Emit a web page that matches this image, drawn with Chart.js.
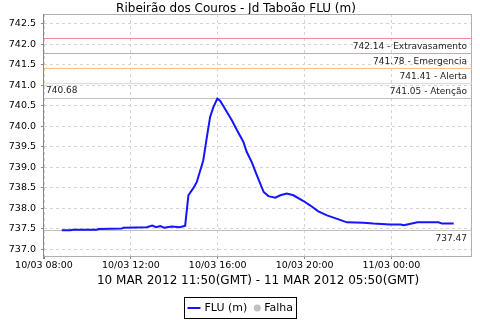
<!DOCTYPE html>
<html><head><meta charset="utf-8">
<script src="https://cdn.jsdelivr.net/npm/chart.js@4"></script>
<style>html,body{margin:0;padding:0;background:#fff}canvas{display:block}</style>
</head><body><canvas id="c" width="480" height="320"></canvas>
<script>
const titleText = "Ribeirão dos Couros - Jd Taboão FLU (m)";
const xAxisTitle = "10 MAR 2012 11:50(GMT) - 11 MAR 2012 05:50(GMT)";
const seriesName = "FLU (m)";
const failName = "Falha";

// readings (local time, 10/03 -> 11/03)
const times = ["08:49","09:12","09:21","10:26","10:30","11:35","11:39","12:44","12:59","13:10","13:21","13:32","13:53","14:16","14:30","14:39","14:53","15:02","15:20","15:30","15:39","15:48","15:59","16:07","16:20","16:39","16:53","17:11","17:20","17:34","17:48","18:07","18:20","18:39","18:53","19:11","19:29","19:57","20:16","20:38","21:02","21:38","21:57","22:43","23:10","23:56","00:25","00:34","01:06","01:11","02:10","02:20","02:52"];
const levels = [737.47,737.47,737.48,737.48,737.50,737.51,737.53,737.54,737.58,737.54,737.57,737.53,737.56,737.54,737.58,738.32,738.50,738.64,739.17,739.74,740.23,740.47,740.68,740.62,740.43,740.15,739.91,739.62,739.38,739.13,738.81,738.40,738.30,738.26,738.32,738.36,738.32,738.18,738.07,737.93,737.83,737.72,737.66,737.65,737.63,737.61,737.61,737.59,737.65,737.66,737.66,737.63,737.63];

const thresholdValues = [742.14, 741.78, 741.41, 741.05];
const thresholdNames = ["Extravasamento", "Emergencia", "Alerta", "Atenção"];
const thresholdColors = ["#f08c8c", "#ff80ff", "#ffbf80", "#ffea50"];

const xTickHours = [0, 4, 8, 12, 16];
const xTickLabels = ["10/03 08:00", "10/03 12:00", "10/03 16:00", "10/03 20:00", "11/03 00:00"];
const yTicks = [737.0, 737.5, 738.0, 738.5, 739.0, 739.5, 740.0, 740.5, 741.0, 741.5, 742.0, 742.5];

const X_MIN = 0, X_MAX = 19.71, Y_MIN = 736.84, Y_MAX = 742.74;

function toHours(t) {
  const [h, m] = t.split(":").map(Number);
  let v = h + m / 60 - 8;
  if (v < 0) v += 24;
  return v;
}
const seriesPoints = times.map((t, i) => ({ x: toHours(t), y: levels[i] }));
const maxLevel = Math.max(...levels);
const minLevel = Math.min(...levels);

const flatLine = (v) => [{ x: X_MIN, y: v }, { x: X_MAX, y: v }];

const datasets = [
  { label: seriesName, data: seriesPoints, borderColor: "rgb(20,20,255)", borderWidth: 2, pointRadius: 0, tension: 0, order: 0 }
];
thresholdValues.forEach((v, i) => {
  datasets.push({ label: thresholdNames[i], data: flatLine(v), borderColor: thresholdColors[i], borderWidth: 1, pointRadius: 0, order: 2, flat: true });
});
datasets.push({ label: "max", data: flatLine(maxLevel), borderColor: "#c0c0c0", borderWidth: 1, pointRadius: 0, order: 2, flat: true });
datasets.push({ label: "min", data: flatLine(minLevel), borderColor: "#c0c0c0", borderWidth: 1, pointRadius: 0, order: 2, flat: true });

const FONT = "DejaVu Sans";

const framePlugin = {
  id: "frame",
  afterDatasetsUpdate(chart) {
    chart.data.datasets.forEach((ds, i) => {
      if (!ds.flat) return;
      chart.getDatasetMeta(i).data.forEach(p => { p.y = Math.round(p.y - 0.5) + 0.5; });
    });
  },
  beforeDatasetsDraw(chart) {
    const { ctx, chartArea: a } = chart;
    ctx.save();
    ctx.strokeStyle = "#b0b0b0";
    ctx.lineWidth = 1;
    ctx.strokeRect(Math.round(a.left) - 0.5, Math.round(a.top) + 0.5, Math.round(a.right - a.left), Math.round(a.bottom - a.top));
    ctx.strokeStyle = "#888888";
    ctx.beginPath();
    ctx.moveTo(Math.round(a.left) - 0.5, a.top);
    ctx.lineTo(Math.round(a.left) - 0.5, a.bottom + 3);
    ctx.stroke();
    ctx.restore();
  },
  afterDatasetsDraw(chart) {
    const { ctx, chartArea: a, scales: { y } } = chart;
    ctx.save();
    ctx.font = "9px '" + FONT + "'";
    ctx.fillStyle = "#222";
    ctx.textBaseline = "middle";
    ctx.textAlign = "right";
    thresholdValues.forEach((v, i) => {
      ctx.fillText(v.toFixed(2) + " - " + thresholdNames[i], a.right - 5, y.getPixelForValue(v) + 8);
    });
    ctx.fillText(minLevel.toFixed(2), a.right - 5, y.getPixelForValue(minLevel) + 8);
    ctx.textAlign = "left";
    ctx.fillText(maxLevel.toFixed(2), a.left + 2, y.getPixelForValue(maxLevel) - 8);
    ctx.restore();
  },
  afterDraw(chart) {
    const { ctx } = chart;
    ctx.save();
    // legend
    ctx.font = "11px '" + FONT + "'";
    const w1 = ctx.measureText(seriesName).width;
    const w2 = ctx.measureText(failName).width;
    const boxW = 3 + 13 + 4 + w1 + 6 + 8 + 3 + w2 + 3;
    const bx = Math.round(240 - boxW / 2) + 0.5, by = 297.5, bh = 21;
    ctx.strokeStyle = "#000";
    ctx.lineWidth = 1;
    ctx.strokeRect(bx, by, Math.round(boxW), bh);
    const cy = by + bh / 2;
    let x = bx + 3;
    ctx.strokeStyle = "rgb(20,20,255)";
    ctx.lineWidth = 2;
    ctx.beginPath(); ctx.moveTo(x, cy); ctx.lineTo(x + 13, cy); ctx.stroke();
    x += 13 + 4;
    ctx.fillStyle = "#000";
    ctx.textBaseline = "middle";
    ctx.textAlign = "left";
    ctx.fillText(seriesName, x, cy);
    x += w1 + 6;
    ctx.fillStyle = "#c0c0c0";
    ctx.beginPath(); ctx.arc(x + 4, cy, 3.5, 0, Math.PI * 2); ctx.fill();
    x += 8 + 3;
    ctx.fillStyle = "#000";
    ctx.fillText(failName, x, cy);
    ctx.restore();
  }
};

new Chart(document.getElementById("c"), {
  type: "line",
  data: { datasets },
  options: {
    responsive: false,
    animation: false,
    devicePixelRatio: 1,
    layout: { padding: { left: 0, right: 8, top: 1, bottom: 30 } },
    plugins: {
      legend: { display: false },
      tooltip: { enabled: false },
      title: {
        display: true, text: titleText, color: "#000",
        font: { family: FONT, size: 12, weight: "normal", lineHeight: 0.8334 },
        padding: { top: 3, bottom: 0 }
      }
    },
    scales: {
      x: {
        type: "linear", min: X_MIN, max: X_MAX,
        afterBuildTicks: (s) => { s.ticks = xTickHours.map(v => ({ value: v })); },
        afterFit: (s) => { s.height = 34; },
        ticks: {
          autoSkip: false, maxRotation: 0, padding: 1, color: "#000",
          font: { family: FONT, size: 9.5 },
          callback: (v, i) => xTickLabels[i]
        },
        grid: { color: "#d4d4d4", tickColor: "#888", tickLength: 3, lineWidth: 1 },
        border: { display: false, dash: [3, 3] },
        title: {
          display: true, text: xAxisTitle, color: "#000",
          font: { family: FONT, size: 12, lineHeight: 1.2 },
          padding: { top: 0, bottom: 2 }
        }
      },
      y: {
        type: "linear", min: Y_MIN, max: Y_MAX,
        afterBuildTicks: (s) => { s.ticks = yTicks.map(v => ({ value: v })); },
        afterFit: (s) => { s.width = 44; },
        ticks: {
          padding: 5, color: "#000",
          font: { family: FONT, size: 9.5 },
          callback: (v) => Number(v).toFixed(1)
        },
        grid: { color: "#d4d4d4", tickColor: "#888", tickLength: 3, lineWidth: 1 },
        border: { display: false, dash: [3, 3] }
      }
    }
  },
  plugins: [framePlugin]
});
</script>
</body></html>
